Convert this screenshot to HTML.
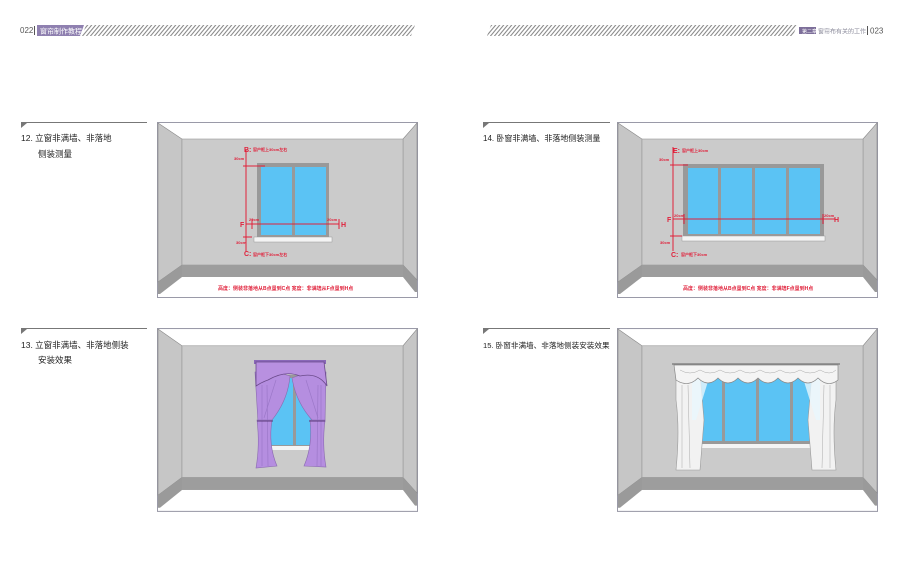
<!DOCTYPE html>
<html><head><meta charset="utf-8"><style>
html,body{margin:0;padding:0;background:#fff;width:900px;height:568px;overflow:hidden}
svg{display:block}
text{font-family:"Liberation Sans","Noto Sans CJK SC",sans-serif}
</style></head><body>
<svg width="900" height="568" viewBox="0 0 900 568" xmlns="http://www.w3.org/2000/svg">
<defs>
<pattern id="hatch" width="4" height="10" patternUnits="userSpaceOnUse" patternTransform="skewX(-40)">
<rect x="0" y="0" width="1.4" height="10" fill="#8a8a8a"/>
</pattern>
<g id="room">
<rect x="0.5" y="0.5" width="260" height="175" fill="#fff" stroke="#9a9aa8"/>
<polygon points="1,1 25,17 25,143 1,160" fill="#c6c6c6" stroke="#888" stroke-width="0.6"/>
<polygon points="25,143 25,155 3,172 1,172 1,160" fill="#9a9a9a"/>
<polygon points="260,1 246,17 246,143 260,158" fill="#c6c6c6" stroke="#888" stroke-width="0.6"/>
<polygon points="246,143 246,155 258,170 260,170 260,158" fill="#9a9a9a"/>
<rect x="25" y="17" width="221" height="126" fill="#cbcbcb" stroke="#999" stroke-width="0.6"/>
<rect x="25" y="143" width="221" height="12" fill="#9d9d9d"/>
</g>
</defs>

<!-- header left -->
<text x="20" y="33" font-size="8" fill="#555">022</text>
<rect x="34" y="26" width="1" height="9" fill="#555"/>
<polygon points="37,25 84,25 80,36 37,36" fill="#8f80b0"/>
<text x="40" y="33.5" font-size="7" fill="#fff">窗帘制作教程</text>
<polygon points="86,25 415,25 411,36 82,36" fill="url(#hatch)"/>
<!-- header right -->
<polygon points="491,25 797,25 793,36 487,36" fill="url(#hatch)"/>
<rect x="799" y="27" width="17" height="7" fill="#7d6f9a"/>
<text x="802" y="33" font-size="5" fill="#fff">第二章</text>
<text x="818" y="33.5" font-size="6" fill="#8a8a9a">窗帘布有关的工作</text>
<rect x="867" y="26" width="1" height="9" fill="#555"/>
<text x="870" y="33.5" font-size="8" fill="#555">023</text>

<!-- section headings -->
<line x1="21" y1="122.5" x2="147" y2="122.5" stroke="#777" stroke-width="1"/>
<polygon points="21,123 27,123 21,128" fill="#777"/>
<text x="21" y="141" font-size="8.5" fill="#222">12. 立窗非满墙、非落地</text>
<text x="38" y="157" font-size="8.5" fill="#222">侧装测量</text>

<line x1="21" y1="328.5" x2="147" y2="328.5" stroke="#777" stroke-width="1"/>
<polygon points="21,329 27,329 21,334" fill="#777"/>
<text x="21" y="348" font-size="8.5" fill="#222">13. 立窗非满墙、非落地侧装</text>
<text x="38" y="363" font-size="8.5" fill="#222">安装效果</text>

<line x1="483" y1="122.5" x2="610" y2="122.5" stroke="#777" stroke-width="1"/>
<polygon points="483,123 489,123 483,128" fill="#777"/>
<text x="483" y="141" font-size="8" fill="#222">14. 卧窗非满墙、非落地侧装测量</text>

<line x1="483" y1="328.5" x2="610" y2="328.5" stroke="#777" stroke-width="1"/>
<polygon points="483,329 489,329 483,334" fill="#777"/>
<text x="483" y="348" font-size="7.6" fill="#222">15. 卧窗非满墙、非落地侧装安装效果</text>

<!-- Panel 12 -->
<use href="#room" x="157" y="122"/>
<rect x="257" y="163" width="72" height="74" fill="#999"/>
<rect x="261" y="167" width="31" height="68" fill="#5bc3f4"/>
<rect x="295" y="167" width="31" height="68" fill="#5bc3f4"/>
<rect x="254" y="237" width="78" height="5" fill="#f4f4f4" stroke="#999" stroke-width="0.5"/>
<g stroke="#e0203a" stroke-width="1" fill="none">
<line x1="246" y1="150" x2="246" y2="251"/>
<line x1="243" y1="166" x2="265" y2="166"/>
<line x1="243" y1="237" x2="252" y2="237"/>
<line x1="246" y1="224" x2="339" y2="224"/>
<line x1="252" y1="219" x2="252" y2="229"/>
<line x1="339" y1="219" x2="339" y2="229"/>
</g>
<g fill="#e0203a" font-weight="bold">
<text x="244" y="152" font-size="7">B:</text>
<text x="253" y="151" font-size="4">窗户框上30cm左右</text>
<text x="234" y="160" font-size="4">30cm</text>
<text x="240" y="227" font-size="7">F</text>
<text x="249" y="221" font-size="4">20cm</text>
<text x="327" y="221" font-size="4">20cm</text>
<text x="341" y="227" font-size="7">H</text>
<text x="236" y="244" font-size="4">30cm</text>
<text x="244" y="256" font-size="7">C:</text>
<text x="253" y="256" font-size="4">窗户框下30cm左右</text>
<text x="218" y="290" font-size="5">高度：侧装非落地从B点量到C点  宽度：非满墙从F点量到H点</text>
</g>

<!-- Panel 14 -->
<use href="#room" x="617" y="122"/>
<rect x="683" y="164" width="141" height="72" fill="#999"/>
<rect x="688" y="168" width="30" height="66" fill="#5bc3f4"/>
<rect x="721" y="168" width="31" height="66" fill="#5bc3f4"/>
<rect x="755" y="168" width="31" height="66" fill="#5bc3f4"/>
<rect x="789" y="168" width="31" height="66" fill="#5bc3f4"/>
<rect x="682" y="236" width="143" height="5" fill="#f4f4f4" stroke="#999" stroke-width="0.5"/>
<g stroke="#e0203a" stroke-width="1" fill="none">
<line x1="673" y1="147" x2="673" y2="251"/>
<line x1="670" y1="165" x2="688" y2="165"/>
<line x1="670" y1="236" x2="682" y2="236"/>
<line x1="673" y1="219" x2="835" y2="219"/>
<line x1="684" y1="214" x2="684" y2="224"/>
<line x1="823" y1="214" x2="823" y2="224"/>
</g>
<g fill="#e0203a" font-weight="bold">
<text x="673" y="153" font-size="7">E:</text>
<text x="682" y="152" font-size="4">窗户框上30cm</text>
<text x="659" y="161" font-size="4">30cm</text>
<text x="667" y="222" font-size="7">F</text>
<text x="674" y="217" font-size="4">20cm</text>
<text x="824" y="217" font-size="4">20cm</text>
<text x="834" y="222" font-size="7">H</text>
<text x="660" y="244" font-size="4">30cm</text>
<text x="671" y="257" font-size="7">C:</text>
<text x="681" y="256" font-size="4">窗户框下30cm</text>
<text x="683" y="290" font-size="5">高度：侧装非落地从B点量到C点  宽度：非满墙F点量到H点</text>
</g>

<!-- Panel 13 -->
<g transform="translate(157,328) scale(1,1.045)"><use href="#room"/></g>
<rect x="266" y="375" width="54" height="72" fill="#999"/>
<rect x="269" y="378" width="24" height="67" fill="#5bc3f4"/>
<rect x="296" y="378" width="22" height="67" fill="#5bc3f4"/>
<rect x="266" y="446" width="56" height="4" fill="#f4f4f4"/>
<path d="M255,372 Q270,370 290,376 Q288,400 272,420 Q264,425 258,422 Z" fill="#b58ee0" stroke="#8a6ab0" stroke-width="0.6"/>
<path d="M326,372 Q312,370 292,378 Q296,402 312,420 Q320,425 325,422 Z" fill="#b58ee0" stroke="#8a6ab0" stroke-width="0.6"/>
<path d="M257,420 L272,420 Q268,445 277,466 L256,468 Q260,445 257,420 Z" fill="#b58ee0" stroke="#8a6ab0" stroke-width="0.6"/>
<path d="M325,420 L310,420 Q313,445 304,466 L326,467 Q322,445 325,420 Z" fill="#b58ee0" stroke="#8a6ab0" stroke-width="0.6"/>
<rect x="254" y="360" width="72" height="4" fill="#8a68b8"/>
<path d="M256,362 L324,362 L327,386 Q318,372 300,376 Q285,370 268,380 Q262,382 256,386 Z" fill="#b890e0" stroke="#6a4a8a" stroke-width="0.8"/>
<g stroke="#9c78c8" stroke-width="0.7">
<line x1="262" y1="385" x2="262" y2="466"/><line x1="267" y1="385" x2="268" y2="466"/>
<line x1="318" y1="385" x2="317" y2="466"/><line x1="321" y1="385" x2="321" y2="466"/>
<line x1="276" y1="380" x2="264" y2="418"/><line x1="306" y1="380" x2="318" y2="418"/>
</g>
<line x1="257" y1="421" x2="273" y2="421" stroke="#5a3a7a" stroke-width="1"/>
<line x1="309" y1="421" x2="325" y2="421" stroke="#5a3a7a" stroke-width="1"/>

<!-- Panel 15 -->
<g transform="translate(617,328) scale(1,1.045)"><use href="#room"/></g>
<rect x="688" y="372" width="133" height="72" fill="#999"/>
<rect x="692" y="375" width="30" height="66" fill="#5bc3f4"/>
<rect x="725" y="375" width="31" height="66" fill="#5bc3f4"/>
<rect x="759" y="375" width="31" height="66" fill="#5bc3f4"/>
<rect x="793" y="375" width="26" height="66" fill="#5bc3f4"/>
<rect x="684" y="444" width="142" height="4" fill="#f4f4f4"/>
<path d="M676,367 L700,373 L704,420 L700,470 L676,470 Q680,430 676,400 Z" fill="#f2f2f2" stroke="#999" stroke-width="0.6"/>
<path d="M836,367 L812,373 L808,420 L812,470 L836,470 Q832,430 836,400 Z" fill="#f2f2f2" stroke="#999" stroke-width="0.6"/>
<path d="M692,372 L710,375 L696,420 L692,420 Z" fill="#e8f6fc" opacity="0.8"/>
<path d="M820,372 L802,375 L816,420 L820,420 Z" fill="#e8f6fc" opacity="0.8"/>
<line x1="672" y1="364" x2="840" y2="364" stroke="#777" stroke-width="1.2"/>
<path d="M674,365 L838,365 L838,380 Q828,388 818,378 Q808,388 798,378 Q788,388 778,378 Q768,388 758,378 Q748,388 738,378 Q728,388 718,378 Q708,388 698,378 Q688,388 676,380 Z" fill="#f4f4f4" stroke="#888" stroke-width="0.7"/>
<g stroke="#aaa" stroke-width="0.5" fill="none">
<path d="M680,370 Q690,376 700,370 Q710,376 720,370 Q730,376 740,370 Q750,376 760,370 Q770,376 780,370 Q790,376 800,370 Q810,376 820,370 Q830,376 836,370"/>
<line x1="682" y1="385" x2="682" y2="468"/><line x1="688" y1="385" x2="690" y2="468"/>
<line x1="830" y1="385" x2="830" y2="468"/><line x1="824" y1="385" x2="822" y2="468"/>
</g>
</svg>
</body></html>
